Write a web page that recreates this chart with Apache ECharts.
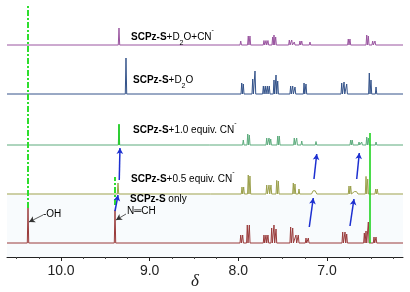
<!DOCTYPE html>
<html><head><meta charset="utf-8">
<script src="https://cdn.jsdelivr.net/npm/echarts@6/dist/echarts.min.js"></script>
<style>html,body{margin:0;padding:0;background:#fff}#c{width:410px;height:292px}</style>
</head><body><div id="c"></div><script>
// ---- data (δ in ppm, intensity in plot units) ----
const majorTicks = [7, 8, 9, 10];
const minorTicks = [6.25, 6.5, 6.75, 7.25, 7.5, 7.75, 8.25, 8.5, 8.75, 9.25, 9.5, 9.75, 10.25, 10.5];
const axisTitle = 'δ';
const traceNames = ['SCPz-S+D2O+CN-', 'SCPz-S+D2O', 'SCPz-S+1.0 equiv. CN-', 'SCPz-S+0.5 equiv. CN-', 'SCPz-S only'];
const traceOffsets = [212, 163, 112, 63, 14];
const peaksCN_D2O = [[9.346,17],[8.255,2],[7.973,4],[7.888,9],[7.869,9],[7.711,4.5],[7.688,4.5],[7.666,4.5],[7.613,8],[7.598,10],[7.579,8],[7.425,5],[7.398,5],[7.369,3],[7.305,4],[7.285,4],[7.192,3],[6.760,6],[6.741,6],[6.552,10],[6.534,9],[6.485,4],[6.459,4]];
const peaksD2O = [[9.267,36],[7.962,11],[7.944,10],[7.838,15],[7.812,23],[7.718,8],[7.696,8],[7.673,8],[7.651,8],[7.598,14],[7.575,19],[7.556,13],[7.410,8],[7.387,8],[7.361,7],[7.259,11],[7.237,10],[6.834,11],[6.808,12],[6.778,10],[6.523,21],[6.504,14],[6.447,7]];
const peaksCN10 = [[9.346,20],[8.320,2],[7.944,5],[7.894,11],[7.876,10],[7.680,7],[7.654,7],[7.635,6],[7.556,9],[7.538,9],[7.369,7],[7.342,7],[7.285,4],[7.124,3.5],[6.733,5],[6.715,5],[6.639,3],[6.609,3],[6.552,8],[6.534,7],[6.447,3]];
const peaksCN05 = [[9.357,11],[8.308,2],[7.959,7],[7.940,7],[7.888,19],[7.869,18],[7.680,9],[7.654,9],[7.632,9],[7.567,13.6],[7.549,13],[7.380,11],[7.361,10],[7.316,5],[6.752,8],[6.733,8],[6.560,17.6],[6.541,15],[6.451,5],[6.433,5]];
const broadCN05 = [[7.145,4],[6.680,3]];
const peaksOnly = [[10.372,35],[9.391,33],[7.973,8],[7.951,8],[7.899,18],[7.876,18],[7.711,8],[7.688,8],[7.666,8],[7.624,15],[7.598,18],[7.575,14],[7.410,16],[7.387,15],[7.350,8],[7.324,8],[7.237,5],[7.211,5],[6.823,11],[6.797,11],[6.778,9],[6.579,10],[6.560,12],[6.534,21],[6.470,6],[6.447,6]];
// arrows: [δ1, y1, δ2, y2]
const blueArrows = [[9.391,46,9.357,62],[9.343,77,9.335,109],[7.200,30,7.155,59],[7.147,78,7.116,103],[6.741,31,6.696,58],[6.665,78,6.636,104]];
const pointerArrows = [[10.203,42,10.361,35],[9.267,43,9.380,37]];
const greenDashed = [[10.372,49,10.372,251],[9.391,52,9.391,80]];
const greenSolid = [[6.515,14,6.515,124],[9.346,112,9.346,133]];

const colors = ['#9a55a0', '#34538a', '#5cab7c', '#9ba04c', '#9a3b3b'];
const X_MIN = 6.143, X_MAX = 10.609;

function buildTrace(peaks, broad, off) {
  const pts = [];
  const w = 0.008;
  peaks.forEach(p => { pts.push([p[0]+w, off], [p[0], off+p[1]], [p[0]-w, off]); });
  (broad||[]).forEach(p => { pts.push([p[0]+0.03, off], [p[0]+0.012, off+p[1]*0.8], [p[0], off+p[1]], [p[0]-0.012, off+p[1]*0.8], [p[0]-0.03, off]); });
  pts.sort((a,b) => b[0]-a[0] || 0);
  return [[X_MAX, off]].concat(pts, [[X_MIN, off]]);
}
const traces = [
  buildTrace(peaksCN_D2O, null, traceOffsets[0]),
  buildTrace(peaksD2O, null, traceOffsets[1]),
  buildTrace(peaksCN10, null, traceOffsets[2]),
  buildTrace(peaksCN05, broadCN05, traceOffsets[3]),
  buildTrace(peaksOnly, null, traceOffsets[4])
];

const seg = (a, style, sym) => [{coord:[a[0],a[1]], symbol:'none'}, {coord:[a[2],a[3]], symbol: sym, lineStyle: style}];
const markLines = [];
greenDashed.forEach(a => markLines.push(seg(a, {color:'#2ede2e', width:2, type:[6,2,2,2]}, 'none')));
greenSolid.forEach(a => markLines.push(seg(a, {color:'#1ed41e', width:1.6, type:'solid'}, 'none')));
blueArrows.forEach(a => markLines.push(seg(a, {color:'#1c2fd0', width:1.5, type:'solid'}, 'arrow')));
pointerArrows.forEach(a => markLines.push(seg(a, {color:'#333', width:0.8, type:'solid'}, 'arrow')));

const series = traces.map((d, i) => ({
  type:'line', data:d, showSymbol:false, symbol:'none', animation:false, silent:true,
  lineStyle:{color:colors[i], width:1}, z: 2
}));
series[4].markLine = {silent:true, animation:false, symbolSize:[5,6], label:{show:false}, data:markLines};
series[4].markArea = {silent:true, z:0, itemStyle:{color:'rgba(232,242,250,0.3)'}, data:[[{coord:[X_MAX,0]},{coord:[X_MIN,62]}]]};

const ff = '"Liberation Sans", Arial, sans-serif';
const rich = {
  b:{fontWeight:'bold', fontSize:10, fontFamily:ff, color:'#222', lineHeight:14},
  n:{fontSize:10, fontFamily:ff, color:'#222', lineHeight:14},
  sub:{fontSize:7, fontFamily:ff, color:'#222', verticalAlign:'bottom', lineHeight:14, padding:[0,0,-3,0]},
  sup:{fontSize:7, fontFamily:ff, color:'#222', verticalAlign:'top', lineHeight:14, padding:[-3,0,0,0]}
};
const txt = (x, y, t) => ({type:'text', left:x, top:y, z:100, silent:true, style:{text:t, rich:rich, font:'10px '+ff}});
const graphics = [
  txt(131, 27, '{b|SCPz-S}{n|+D}{sub|2}{n|O+CN}{sup|-}'),
  txt(133, 75, '{b|SCPz-S}{n|+D}{sub|2}{n|O}'),
  txt(133, 120, '{b|SCPz-S}{n|+1.0 equiv. CN}{sup|-}'),
  txt(131, 169, '{b|SCPz-S}{n|+0.5 equiv. CN}{sup|-}'),
  txt(130, 194, '{b|SCPz-S}{n| only}'),
  txt(43, 209, '{n|-OH}'),
  txt(127, 206, '{n|N═CH}'),
  {type:'text', left:191, top:273, z:100, silent:true,
   style:{text:axisTitle, fill:'#222', font:'italic 17px "Liberation Serif", serif'}}
];

const chart = echarts.init(document.getElementById('c'), null, {renderer:'canvas'});
chart.setOption({
  animation:false,
  backgroundColor:'#fff',
  grid:{left:7, right:7, top:0, bottom:35, containLabel:false, outerBoundsMode:'none'},
  xAxis:[
    {type:'value', inverse:true, min:X_MIN, max:X_MAX, position:'bottom',
     axisLine:{show:true, lineStyle:{color:'#222', width:1}},
     axisTick:{show:true, length:4, customValues:majorTicks, lineStyle:{color:'#222'}},
     axisLabel:{show:true, customValues:majorTicks, formatter:v=>Number(v).toFixed(1), fontSize:14, fontFamily:ff, color:'#222', margin:7},
     splitLine:{show:false}},
    {type:'value', inverse:true, min:X_MIN, max:X_MAX, position:'bottom',
     axisLine:{show:false},
     axisTick:{show:true, length:2, customValues:minorTicks, lineStyle:{color:'#444'}},
     axisLabel:{show:false}, splitLine:{show:false}}
  ],
  yAxis:{type:'value', min:0, max:257, show:false},
  series:series,
  graphic:graphics
});
</script></body></html>
